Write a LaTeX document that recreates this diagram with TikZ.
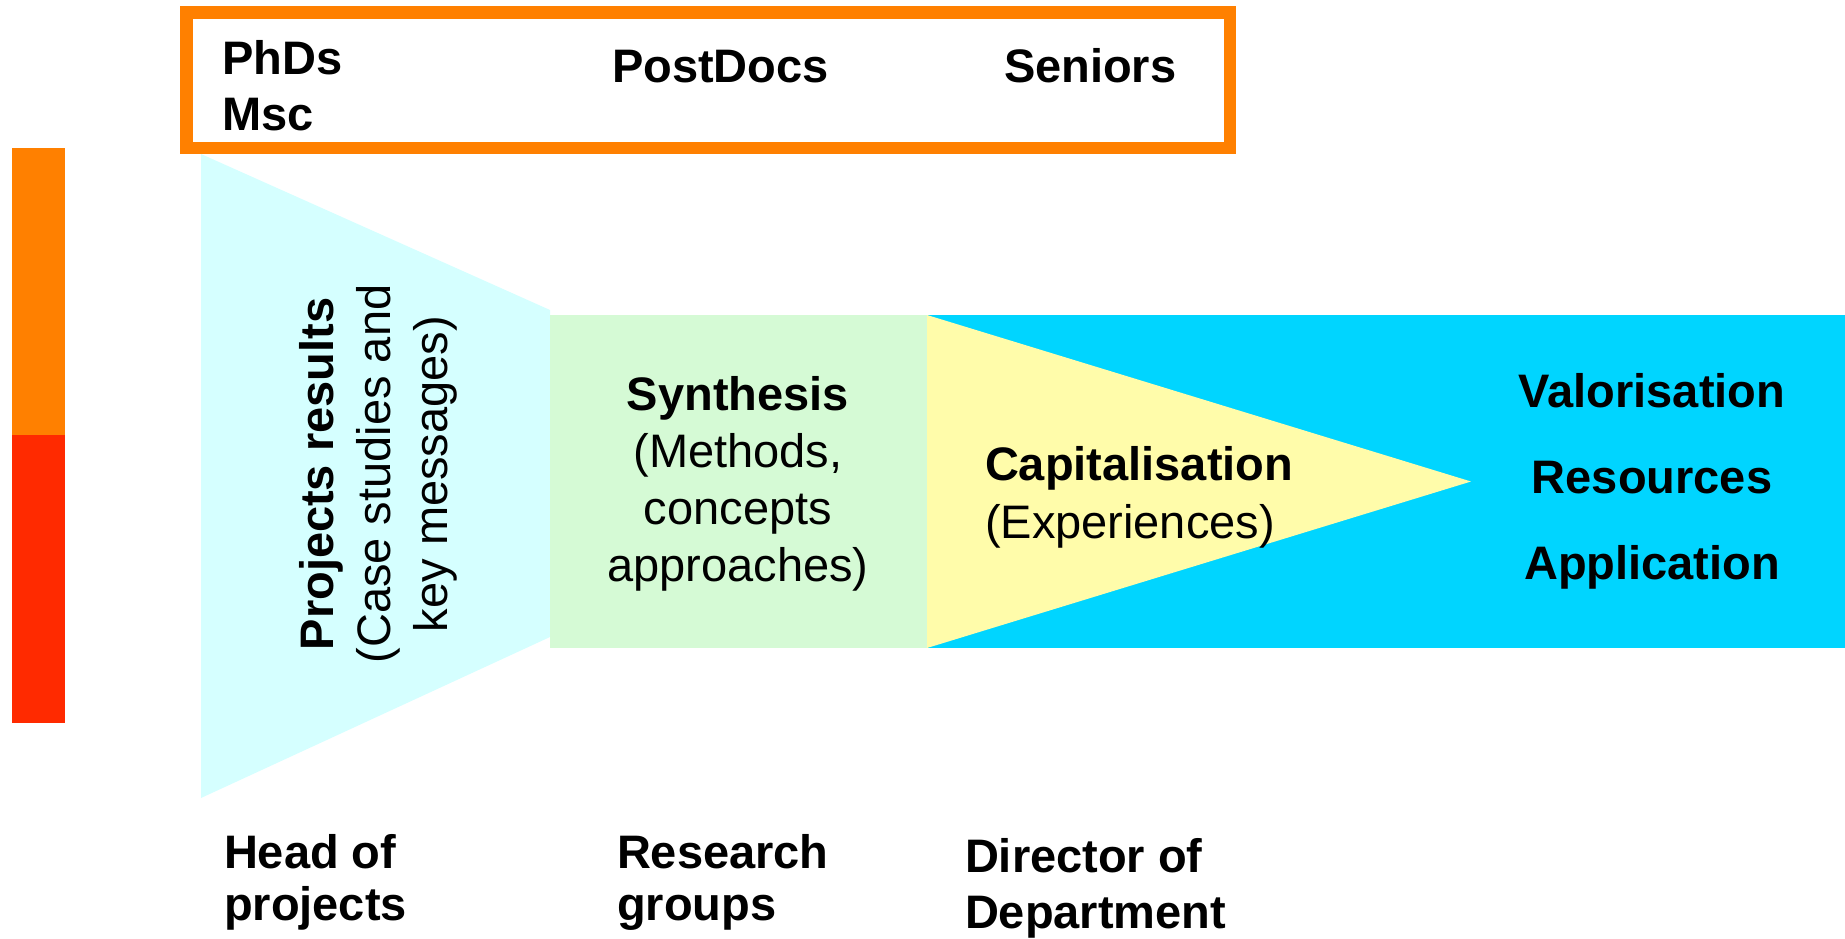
\documentclass[tikz,border=0pt]{standalone}
\usepackage{fontspec}
\setmainfont{Liberation Sans}
\definecolor{boxorange}{RGB}{255,128,0}
\definecolor{barred}{RGB}{255,42,0}
\definecolor{palecyan}{RGB}{213,255,255}
\definecolor{palegreen}{RGB}{213,250,213}
\definecolor{paleyellow}{RGB}{255,252,170}
\definecolor{brightcyan}{RGB}{0,213,255}
\newcommand{\mylines}[2]{\begin{tabular}[t]{@{}#1@{}}#2\end{tabular}}
\begin{document}
\begin{tikzpicture}[x=1pt,y=-1pt,
  lbl/.style={inner sep=0pt, outer sep=0pt, font=\fontsize{47}{56}\selectfont},
  shape/.style={draw=none}]
\useasboundingbox (0,0) rectangle (1845,938);
\fill[white] (0,0) rectangle (1845,938);
% side bar
\fill[boxorange] (12,148) rectangle (65,435);
\fill[barred] (12,435) rectangle (65,723);
% funnel trapezoid
\fill[palecyan] (201,154) -- (550,310) -- (550,637) -- (201,798) -- cycle;
% synthesis rectangle
\fill[palegreen] (550,315) rectangle (927,648);
% cyan band
\fill[brightcyan] (927,315) rectangle (1845,648);
% yellow triangle
\fill[paleyellow] (927,315) -- (1471,481.5) -- (927,648) -- cycle;
% orange frame
\draw[boxorange, line width=12.5pt] (186.25,12.25) rectangle (1229.75,147.75);
% top labels
\node[lbl, anchor=base west] (phd) at (222,74) {\bfseries\mylines{l}{PhDs\\Msc}};
\node[lbl, anchor=base west] (postdoc) at (612,82) {\bfseries PostDocs};
\node[lbl, anchor=base west] (senior) at (1004,82) {\bfseries Seniors};
% rotated label
\node[lbl, font=\fontsize{47}{57}\selectfont, rotate=90, anchor=base] (proj) at (333,474)
  {\mylines{c}{\bfseries Projects results\\(Case studies and\\key messages)}};
% synthesis
\node[lbl, font=\fontsize{47}{57.3}\selectfont, anchor=base] (synth) at (738,410)
  {\mylines{c}{\bfseries Synthesis\\(Methods,\\concepts\\approaches)}};
% capitalisation
\node[lbl, font=\fontsize{47}{58}\selectfont, anchor=base west] (capit) at (985,480)
  {\mylines{l}{\bfseries Capitalisation\\(Experiences)}};
% right
\node[lbl, font=\fontsize{47}{86}\selectfont, anchor=base] (valor) at (1652,407)
  {\bfseries\mylines{c}{Valorisation\\Resources\\Application}};
% bottom labels
\node[lbl, font=\fontsize{47}{52}\selectfont, anchor=base west] (head) at (224,868)
  {\bfseries\mylines{l}{Head of\\projects}};
\node[lbl, font=\fontsize{47}{52}\selectfont, anchor=base west] (research) at (617,868)
  {\bfseries\mylines{l}{Research\\groups}};
\node[lbl, font=\fontsize{47}{56}\selectfont, anchor=base west] (director) at (965,872)
  {\bfseries\mylines{l}{Director of\\Department}};
\end{tikzpicture}
\end{document}
